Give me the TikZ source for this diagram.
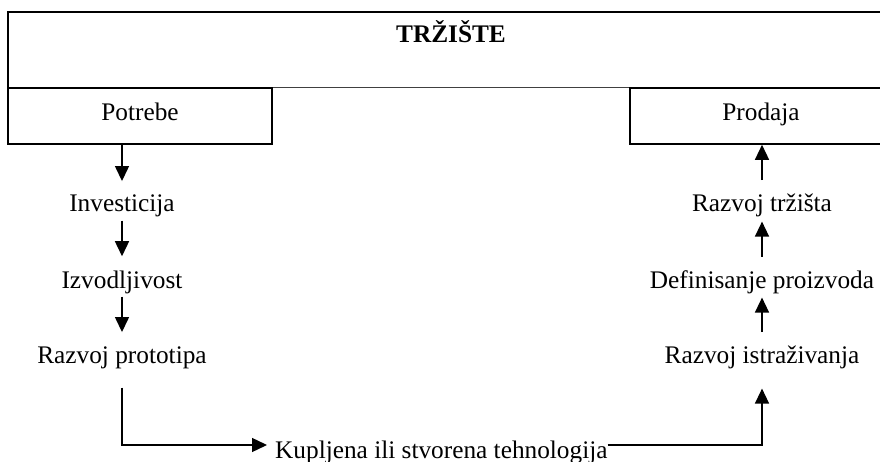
\documentclass[tikz,border=0pt]{standalone}
\usepackage{fontspec}
\setmainfont{Liberation Serif}
\usetikzlibrary{arrows.meta}
\begin{document}
\begin{tikzpicture}[x=1pt,y=-1pt,
  lbl/.style={inner sep=0pt, anchor=base, font=\fontsize{25.3pt}{30pt}\selectfont},
  frame/.style={draw=black, line width=1.6pt},
  boxnode/.style={frame, rectangle, minimum height=56pt, inner sep=0pt,
      text height=15.5pt, text depth=6.5pt, font=\fontsize{25.3pt}{30pt}\selectfont},
  arr/.style={draw=black, line width=1.4pt, -{Triangle[length=15pt,width=14pt]}},
  dn/.style={arr, shorten <=3pt, shorten >=14pt},
  up/.style={arr, shorten <=13pt, shorten >=4pt}]
\useasboundingbox (0,0) rectangle (880,462);
% outer market frame
\draw[line width=1pt, draw=black!75] (8,88) -- (892,88);
\draw[frame] (8,88) -- (8,12) -- (892,12) -- (892,88);
\node[lbl, font=\fontsize{25.3pt}{30pt}\selectfont\bfseries] (trz) at (451,43) {TRŽIŠTE};
% boxes
\node[boxnode, minimum width=264pt] (pot) at (140,116) {Potrebe};
\node[boxnode, minimum width=262pt] (pro) at (761,116) {Prodaja};
% left column
\node[lbl] (inv) at (122,212) {Investicija};
\node[lbl] (izv) at (122,288) {Izvodljivost};
\node[lbl] (rp)  at (122,363) {Razvoj prototipa};
% right column
\node[lbl] (rt) at (762,212) {Razvoj tržišta};
\node[lbl] (dp) at (762,288) {Definisanje proizvoda};
\node[lbl] (ri) at (762,363) {Razvoj istraživanja};
% bottom
\node[lbl, anchor=base west] (kup) at (275,458) {Kupljena ili stvorena tehnologija};
\coordinate (ly) at (0,445);
% arrows left
\draw[arr, shorten >=14pt] (pot.south -| inv.north) -- (inv.north);
\draw[dn] (inv.south) -- (izv.north);
\draw[dn] (izv.south) -- (rp.north);
\draw[arr, shorten <=19pt] (rp.south) |- ([xshift=-8pt]kup.west |- ly);
% arrows right
\draw[arr, shorten >=20pt] (kup.east |- ly) -| (ri.south);
\draw[up] (ri.north) -- (dp.south);
\draw[up] (dp.north) -- (rt.south);
\draw[arr, shorten <=14pt] (rt.north) -- (rt.north |- pro.south);
\end{tikzpicture}
\end{document}
